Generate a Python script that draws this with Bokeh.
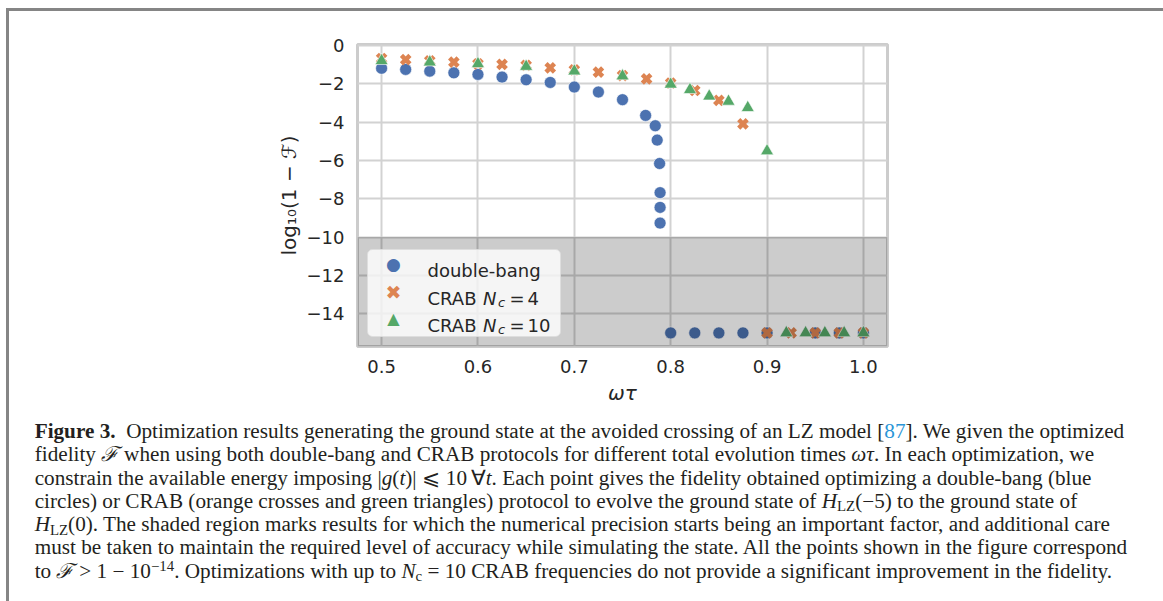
from bokeh.plotting import figure
from bokeh.models import Range1d, BoxAnnotation, Label, Div, FixedTicker
from bokeh.layouts import column
from bokeh.embed import file_html
from bokeh.resources import INLINE

# ---------------- data ----------------
db_wt = [0.5, 0.525, 0.55, 0.575, 0.6, 0.625, 0.65, 0.675, 0.7, 0.725, 0.75,
         0.774, 0.784, 0.786, 0.7885, 0.789, 0.789, 0.789,
         0.8, 0.825, 0.85, 0.875, 0.9, 0.95, 0.975, 1.0]
db_log = [-1.19, -1.25, -1.34, -1.43, -1.51, -1.65, -1.79, -1.93, -2.17, -2.43, -2.83,
          -3.65, -4.19, -4.94, -6.16, -7.68, -8.45, -9.27,
          -15, -15, -15, -15, -15, -15, -15, -15]

crab4_wt = [0.5, 0.525, 0.55, 0.575, 0.6, 0.625, 0.65, 0.675, 0.7, 0.725, 0.75,
            0.775, 0.8, 0.825, 0.85, 0.875, 0.9, 0.925, 0.95, 0.975, 1.0]
crab4_log = [-0.68, -0.74, -0.80, -0.87, -0.96, -0.99, -1.04, -1.17, -1.27, -1.39, -1.57,
             -1.74, -1.97, -2.35, -2.87, -4.09, -15, -15, -15, -15, -15]

crab10_wt = [0.5, 0.55, 0.6, 0.65, 0.7, 0.75, 0.8, 0.82, 0.84, 0.86, 0.88, 0.9,
             0.92, 0.94, 0.96, 0.98, 1.0]
crab10_log = [-0.80, -0.87, -0.96, -1.10, -1.34, -1.60, -2.03, -2.31, -2.65, -2.92, -3.25, -5.51,
              -15, -15, -15, -15, -15]

precision_limit = [-10]

x_ticks = [0.5, 0.6, 0.7, 0.8, 0.9, 1.0]
x_tick_labels = ["0.5", "0.6", "0.7", "0.8", "0.9", "1.0"]
y_ticks = [0, -2, -4, -6, -8, -10, -12, -14]
y_tick_labels = ["0", "\u22122", "\u22124", "\u22126", "\u22128", "\u221210", "\u221212", "\u221214"]

series_names = ["double-bang", "CRAB", "CRAB"]
series_nc = [None, "4", "10"]

BLUE, ORANGE, GREEN = "#4C72B0", "#DD8452", "#55A868"
TXT = "#262626"

p = figure(frame_width=530, frame_height=302,
           x_range=Range1d(0.475, 1.025), y_range=Range1d(-15.71, 0.05),
           output_backend="svg", toolbar_location=None,
           min_border_left=348, min_border_right=272, min_border_top=33, min_border_bottom=65,
           background_fill_color="white", border_fill_color="white")

p.outline_line_color = "#cccccc"
p.outline_line_width = 3

p.xaxis.ticker = FixedTicker(ticks=x_ticks)
p.yaxis.ticker = FixedTicker(ticks=y_ticks)
p.xaxis.major_label_overrides = {t: l for t, l in zip(x_ticks, x_tick_labels)}
p.yaxis.major_label_overrides = {t: l for t, l in zip(y_ticks, y_tick_labels)}

for g in (p.xgrid, p.ygrid):
    g.grid_line_color = "#d2d2d2"
    g.grid_line_width = 2

for ax in (p.xaxis, p.yaxis):
    ax.axis_line_color = None
    ax.major_tick_line_color = None
    ax.minor_tick_line_color = None
    ax.major_tick_out = 0
    ax.major_label_text_font = "DejaVu Sans"
    ax.major_label_text_font_size = "18px"
    ax.major_label_text_color = TXT
    ax.axis_label_text_font = "DejaVu Sans"
    ax.axis_label_text_font_size = "20px"
    ax.axis_label_text_color = TXT

p.xaxis.major_label_standoff = 13
p.yaxis.major_label_standoff = 13
p.xaxis.axis_label = "\u03c9\u03c4"
p.xaxis.axis_label_text_font_style = "italic"
p.xaxis.axis_label_standoff = 5
p.yaxis.axis_label = "log\u2081\u2080(1 \u2212 \u2131)"
p.yaxis.axis_label_text_font_style = "normal"
p.yaxis.axis_label_standoff = 3

p.scatter(db_wt, db_log, marker="circle", size=12, fill_color=BLUE, line_color="white", line_width=0.6)
p.scatter(crab4_wt, crab4_log, marker="x", size=12, line_color=ORANGE, line_width=4.5)
p.scatter(crab10_wt, crab10_log, marker="triangle", size=13, fill_color=GREEN, line_color="white", line_width=0.6)

# shaded region of limited numerical precision
p.add_layout(BoxAnnotation(top=precision_limit[0], fill_color="black", fill_alpha=0.2,
                           line_color=None, level="annotation"))

# legend (custom, to allow italic N with subscript c)
p.add_layout(BoxAnnotation(left=10, right=203, bottom=10, top=97,
                           left_units="screen", right_units="screen",
                           top_units="screen", bottom_units="screen",
                           fill_color="white", fill_alpha=0.8,
                           line_color="#dddddd", line_alpha=0.8, line_width=1,
                           border_radius=5, level="overlay"))

def lab(x, y, text, color=TXT, size="18px", style="normal", align="left", baseline="alphabetic"):
    p.add_layout(Label(x=x, y=y, x_units="screen", y_units="screen", text=text,
                       text_color=color, text_font="DejaVu Sans", text_font_size=size,
                       text_font_style=style, text_align=align, text_baseline=baseline,
                       level="overlay"))

row_mid = [83, 55, 28]
row_base = [76.5, 48.5, 21.5]
symbols = [("\u25cf", BLUE, "17px"), ("\u2716", ORANGE, "19px"), ("\u25b2", GREEN, "16px")]
for i in range(3):
    sym, col, sz = symbols[i]
    lab(36, row_mid[i], sym, color=col, size=sz, align="center", baseline="middle")
    lab(70, row_base[i], series_names[i])
    if series_nc[i] is not None:
        lab(125.5, row_base[i], "N", style="italic")
        lab(140.5, row_base[i] - 4, "c", size="13px", style="italic")
        lab(152, row_base[i], "=")
        lab(170, row_base[i], series_nc[i])

SUB = "<span style='font-size:0.7em;position:relative;top:0.25em'>"
SUP = "<span style='font-size:0.7em;position:relative;top:-0.45em'>"
caption_lines = [
    "<b>Figure 3.</b>&nbsp; Optimization results generating the ground state at the avoided crossing of an LZ model [<span style='color:#2a96d8'>87</span>]. We given the optimized",
    "fidelity <i>\u2131</i> when using both double-bang and CRAB protocols for different total evolution times <i>\u03c9\u03c4</i>. In each optimization, we",
    "constrain the available energy imposing |<i>g</i>(<i>t</i>)| \u2a7d 10\u2009\u2200<i>t</i>. Each point gives the fidelity obtained optimizing a double-bang (blue",
    "circles) or CRAB (orange crosses and green triangles) protocol to evolve the ground state of <i>H</i>" + SUB + "LZ</span>(\u22125) to the ground state of",
    "<i>H</i>" + SUB + "LZ</span>(0). The shaded region marks results for which the numerical precision starts being an important factor, and additional care",
    "must be taken to maintain the required level of accuracy while simulating the state. All the points shown in the figure correspond",
    "to <i>\u2131</i> &gt; 1 \u2212 10" + SUP + "\u221214</span>. Optimizations with up to <i>N</i>" + SUB + "c</span> = 10 CRAB frequencies do not provide a significant improvement in the fidelity.",
]
line_style = ("white-space:pre !important;word-wrap:normal;overflow-wrap:normal;"
              "height:23.3px;line-height:23.3px;overflow:visible;width:1300px;")
caption_html = ("<div style=\"font-family:'Liberation Serif',serif;font-size:20.5px;"
                "color:#231f20;padding:4px 0 0 20px;width:1300px;"
                "transform:scaleX(1.034);transform-origin:0 0;\">"
                + "".join("<div style='%s'>%s</div>" % (line_style, ln) for ln in caption_lines)
                + "</div>")
cap = Div(text=caption_html, width=1150, height=190, styles={"overflow": "hidden"})

layout = column(p, cap, styles={"margin-left": "6px", "margin-top": "8px",
                                "border-left": "3px solid #858585",
                                "border-right": "3px solid #858585",
                                "border-top": "3px solid #858585",
                                "background": "white"})

open("out.html", "w").write(file_html(layout, INLINE))
